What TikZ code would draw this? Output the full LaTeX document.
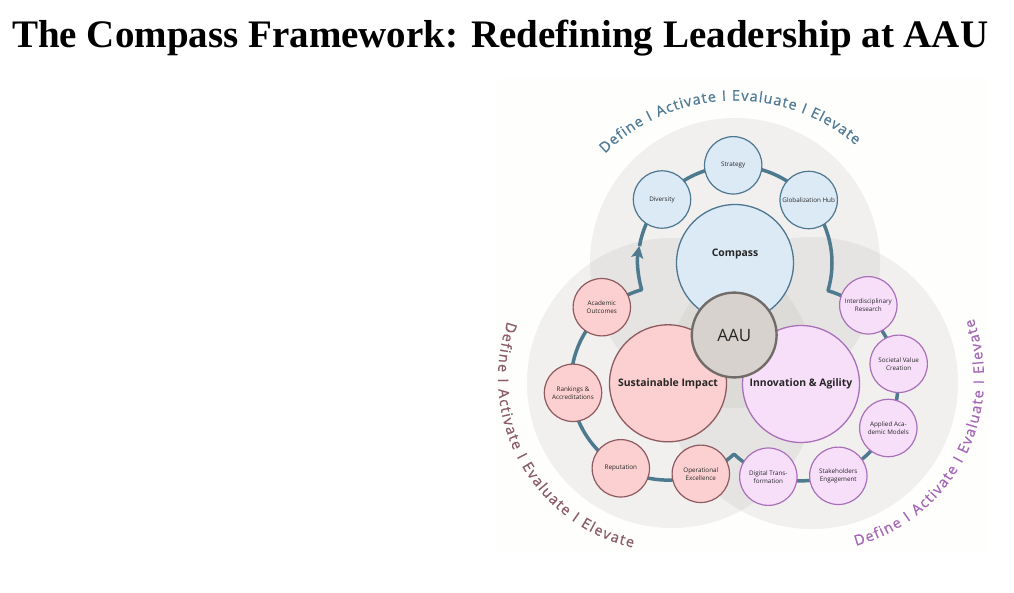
\documentclass[tikz,border=0pt]{standalone}
\usepackage{fontspec}
\setmainfont{Open Sans}
\newfontfamily\titlefont{Liberation Serif}
\newfontfamily\arcfamily[FakeBold=0.7]{Open Sans}
\usetikzlibrary{arrows.meta,decorations.text,calc}

\definecolor{bgoff}{HTML}{FEFEFD}
\definecolor{greydisc}{HTML}{BDB8B2}
\definecolor{ringcol}{HTML}{4E7A8F}
\definecolor{bluefill}{HTML}{DCEAF6}
\definecolor{bluedraw}{HTML}{4D7690}
\definecolor{pinkfill}{HTML}{FCD0D0}
\definecolor{pinkdraw}{HTML}{8D5A60}
\definecolor{purpfill}{HTML}{F7DFFA}
\definecolor{purpdraw}{HTML}{A970B9}
\definecolor{aaufill}{HTML}{D7D2CE}
\definecolor{aaudraw}{HTML}{716C69}
\definecolor{arcblue}{HTML}{4F7B96}
\definecolor{arcmaroon}{HTML}{8B5B67}
\definecolor{arcpurple}{HTML}{A566B6}
\definecolor{labtext}{HTML}{262626}

\newcommand\arcfont{\arcfamily\fontsize{14.5}{14.5}\selectfont}
\newcommand\smallfont{\fontsize{6.3}{7.9}\selectfont}
\newcommand\bigfont{\fontsize{10.4}{12}\selectfont\bfseries}

\tikzset{
  greycircle/.style={fill=greydisc, fill opacity=0.2, draw=none},
  ring/.style={draw=ringcol, line width=3.5pt, line join=round},
  satnode/.style={circle, minimum size=57.4pt, inner sep=0pt, line width=1.2pt,
    align=center, font=\smallfont, text=labtext},
  bluesat/.style={satnode, fill=bluefill, draw=bluedraw},
  pinksat/.style={satnode, fill=pinkfill, draw=pinkdraw},
  purpsat/.style={satnode, fill=purpfill, draw=purpdraw},
  bignode/.style={circle, minimum size=117pt, inner sep=0pt, line width=1.3pt,
    align=center, font=\bigfont, text=labtext},
  aaunode/.style={circle, minimum size=84.8pt, inner sep=0pt, line width=2.4pt,
    fill=aaufill, draw=aaudraw, font=\fontsize{17}{17}\selectfont, text=labtext},
  arctext/.style={decorate, decoration={text along path, text align=fit to path, text={#1}}}
}

\begin{document}
\begin{tikzpicture}[x=1pt,y=1pt]
\useasboundingbox (0,0) rectangle (1014,-592);
\fill[white] (0,0) rectangle (1014,-592);

% title
\node[anchor=base west, inner sep=0pt, font=\titlefont\bfseries\fontsize{39}{39}\selectfont] (title) at (12,-47)
  {The Compass Framework: Redefining Leadership at AAU};

% picture background
\fill[bgoff] (497,-78) rectangle (987,-553);

% ring centres
\coordinate (C1) at (735,-263);
\coordinate (C2) at (668,-383.3);
\coordinate (C3) at (801,-384);

% grey discs
\fill[greycircle] (735,-263) circle[radius=145];
\fill[greycircle] (672,-383) circle[radius=145];
\fill[greycircle] (812,-383) circle[radius=146];

% arc texts
\path[arctext={|\arcfont\color{arcblue}|Define I Activate I Evaluate I Elevate}]
  ($(735,-286)+(134.5:185.5)$) arc[start angle=134.5, end angle=49.5, radius=185.5];
\path[arctext={|\arcfont\color{arcmaroon}|Define I Activate I Evaluate I Elevate}]
  ($(672,-378)+(161:174)$) arc[start angle=161, end angle=257, radius=174];
\path[arctext={|\arcfont\color{arcpurple}|Define I Activate I Evaluate I Elevate}]
  ($(810,-378)+(-74.7:174)$) arc[start angle=-74.7, end angle=20, radius=174];

% ring
\draw[ring, -{Stealth[length=12pt, width=12pt, inset=2.5pt]}]
  ($(C1)+(170:97)$)
  arc[start angle=170, end angle=-16.6, radius=97]
  arc[start angle=73.8, end angle=-133.6, radius=97]
  arc[start angle=-47.05, end angle=-254.3, radius=97]
  arc[start angle=196.1, end angle=170, radius=97];

% big circles
\node[bignode, fill=bluefill, draw=bluedraw, label={[font=\bigfont, text=labtext, yshift=9pt]center:Compass}] (compass) at (735,-263) {};
\node[bignode, fill=pinkfill, draw=pinkdraw] (si) at (668,-383.3) {Sustainable Impact};
\node[bignode, fill=purpfill, draw=purpdraw] (ia) at (801,-384) {Innovation \& Agility};
\node[aaunode] (aau) at (734.2,-335) {AAU};

% satellites
\node[bluesat] (strategy) at (733.2,-165.3) {Strategy};
\node[bluesat] (diversity) at (662,-199.5) {Diversity};
\node[bluesat] (glob) at (808.7,-200) {Globalization Hub};

\node[pinksat] (ao) at (601.8,-307.2) {Academic\\Outcomes};
\node[pinksat] (ra) at (573,-392.8) {Rankings \&\\Accreditations};
\node[pinksat] (rep) at (620.8,-468.3) {Reputation};
\node[pinksat] (oe) at (700.8,-473.8) {Operational\\Excellence};

\node[purpsat] (ir) at (868.3,-305.3) {Interdisciplinary\\Research};
\node[purpsat] (svc) at (898.7,-363.8) {Societal Value\\Creation};
\node[purpsat] (aam) at (888.3,-428) {Applied Aca-\\demic Models};
\node[purpsat] (se) at (838.3,-475.8) {Stakeholders\\Engagement};
\node[purpsat] (dt) at (768.3,-476.7) {Digital Trans-\\formation};
\end{tikzpicture}
\end{document}
